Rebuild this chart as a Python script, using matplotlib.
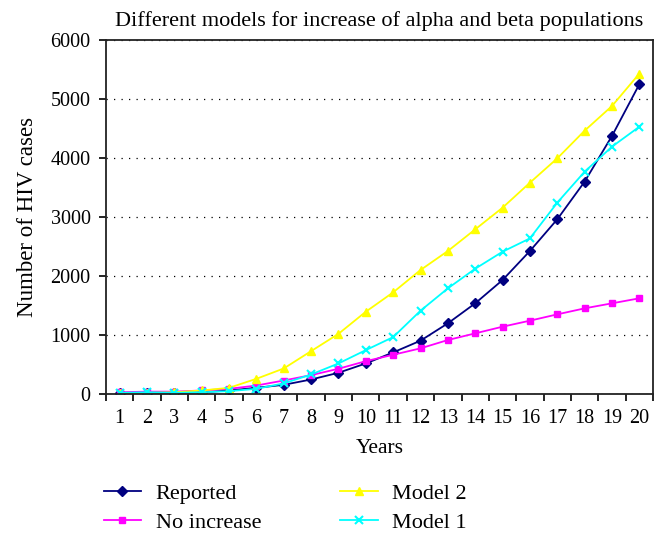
import matplotlib.pyplot as plt
import numpy as np

plt.rcParams['font.family'] = ['Liberation Serif', 'DejaVu Serif']

years = list(range(1, 21))
reported = [10, 15, 15, 30, 60, 105, 156, 246, 360, 518, 705, 904, 1198, 1537, 1932, 2424, 2961, 3599, 4373, 5249]
no_increase = [30, 40, 40, 60, 88, 144, 229, 320, 428, 557, 665, 774, 915, 1028, 1141, 1243, 1350, 1452, 1537, 1622]
model2 = [10, 20, 30, 60, 105, 258, 433, 727, 1020, 1395, 1723, 2102, 2424, 2791, 3158, 3582, 3994, 4463, 4881, 5430]
model1 = [20, 30, 20, 30, 48, 88, 180, 331, 518, 744, 965, 1412, 1791, 2124, 2412, 2638, 3243, 3768, 4192, 4530]

fig = plt.figure(figsize=(6.68, 5.41), dpi=100)
ax = fig.add_axes([0.1587, 0.2717, 0.8188, 0.6543])

ax.plot(years, reported, color='#000080', marker='D', markersize=5, lw=1.3, label='Reported')
ax.plot(years, no_increase, color='#FF00FF', marker='s', markersize=5, lw=1.3, label='No increase')
ax.plot(years, model2, color='#FFFF00', marker='^', markersize=6, lw=1.3, label='Model 2')
ax.plot(years, model1, color='#00FFFF', marker='x', markersize=6, mew=1.5, lw=1.3, label='Model 1')

ax.set_xlim(0.5, 20.5)
ax.set_ylim(0, 6000)
ax.set_yticks(np.arange(0, 6001, 1000))
ax.set_xticks(years)
ax.set_xticks(np.arange(0.5, 21, 1), minor=True)
ax.tick_params(axis='x', which='major', length=0, labelsize=14.5, pad=11)
ax.tick_params(axis='x', which='minor', length=5, width=1.2, direction='out')
ax.tick_params(axis='y', length=5, width=1.2, direction='out', labelsize=14.5, pad=6)
ax.grid(axis='y', color='black', linestyle=(0, (1, 5)), linewidth=0.9)
for s in ax.spines.values():
    s.set_linewidth(1.3)
    s.set_color('#222222')

ax.set_title('Different models for increase of alpha and beta populations', fontsize=16, pad=10)
ax.set_xlabel('Years', fontsize=15.5, labelpad=8)
ax.set_ylabel('Number of HIV cases', fontsize=16.5, labelpad=9)

fig.legend(loc='upper left', bbox_to_anchor=(0.155, 0.107), ncol=2, frameon=False,
           fontsize=16, handlelength=1.7, handletextpad=0.65, columnspacing=3.55,
           labelspacing=0.4, borderpad=0, borderaxespad=0,
           bbox_transform=fig.transFigure)

fig.savefig('out.png', dpi=100)
